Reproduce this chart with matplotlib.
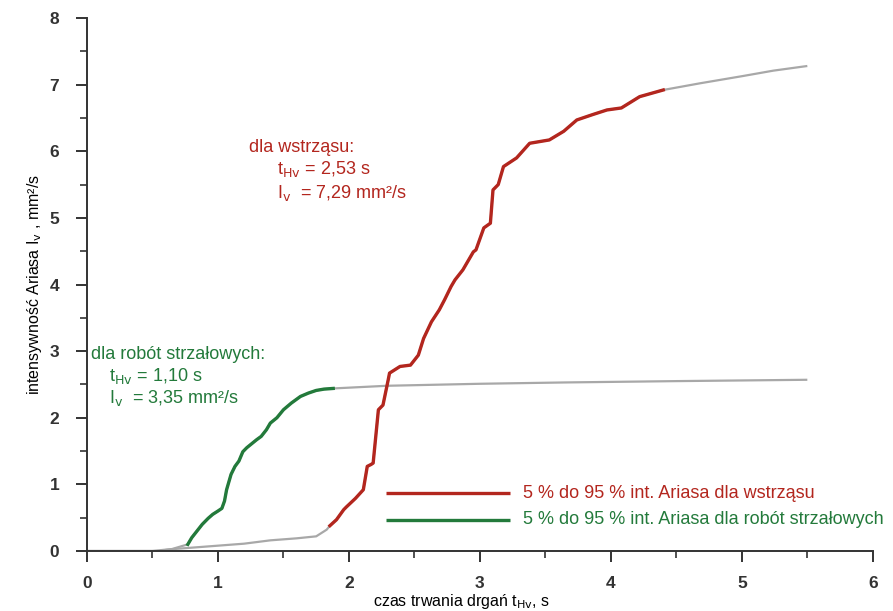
import numpy as np
import matplotlib
matplotlib.use("Agg")
import matplotlib.pyplot as plt
from matplotlib.ticker import MultipleLocator

plt.rcParams['font.family'] = ['Liberation Sans', 'DejaVu Sans']

# Arias intensity for the tremor (wstrzas)
t_tremor = [0, 0.5, 0.6, 0.8, 1.0, 1.2, 1.4, 1.6, 1.75, 1.83, 1.855, 1.905, 1.96, 1.98,
            2.05, 2.11, 2.14, 2.17, 2.185, 2.225, 2.26, 2.30, 2.31, 2.39, 2.47, 2.53, 2.57,
            2.63, 2.69, 2.73, 2.78, 2.81, 2.87, 2.95, 2.97, 3.03, 3.08, 3.10, 3.14, 3.18,
            3.28, 3.38, 3.53, 3.64, 3.74, 3.86, 3.97, 4.08, 4.22, 4.40, 4.68, 5.01, 5.24, 5.5]
I_tremor = [0, 0, 0.02, 0.05, 0.08, 0.11, 0.16, 0.19, 0.22, 0.32, 0.38, 0.47, 0.62, 0.66,
            0.79, 0.92, 1.27, 1.30, 1.32, 2.12, 2.19, 2.57, 2.67, 2.77, 2.79, 2.94, 3.19,
            3.44, 3.62, 3.77, 3.97, 4.07, 4.22, 4.49, 4.52, 4.85, 4.92, 5.42, 5.50, 5.77,
            5.90, 6.12, 6.17, 6.30, 6.47, 6.55, 6.62, 6.65, 6.82, 6.92, 7.02, 7.13, 7.21, 7.28]
tremor_window = (1.855, 4.40)

# Arias intensity for blasting works (roboty strzalowe)
t_blast = [0, 0.55, 0.65, 0.77, 0.80, 0.88, 0.925, 0.96, 1.0, 1.03, 1.05, 1.066, 1.10, 1.13,
           1.16, 1.19, 1.22, 1.295, 1.33, 1.37, 1.40, 1.45, 1.50, 1.56, 1.63, 1.69, 1.75,
           1.81, 1.88, 2.29, 3.0, 3.65, 4.5, 5.5]
I_blast = [0, 0, 0.03, 0.10, 0.20, 0.40, 0.49, 0.55, 0.60, 0.64, 0.75, 0.92, 1.15, 1.27,
           1.35, 1.49, 1.55, 1.67, 1.72, 1.82, 1.92, 2.00, 2.12, 2.22, 2.32, 2.37, 2.41,
           2.43, 2.44, 2.48, 2.51, 2.53, 2.55, 2.57]
blast_window = (0.77, 1.88)

red = '#b3261e'
green = '#237a3b'
gray = '#a8a8a8'

fig = plt.figure(figsize=(8.93, 6.11), dpi=100)
ax = fig.add_axes([0.0974, 0.0982, 0.88, 0.8723])

for t, I, win, col in [(t_tremor, I_tremor, tremor_window, red),
                       (t_blast, I_blast, blast_window, green)]:
    t = np.array(t)
    I = np.array(I)
    ax.plot(t, I, color=gray, lw=1.6, solid_capstyle='butt', zorder=2)
    m = (t >= win[0]) & (t <= win[1])
    ax.plot(t[m], I[m], color=col, lw=2.4, solid_joinstyle='round', zorder=3)

ax.set_xlim(0, 6)
ax.set_ylim(0, 8)
ax.xaxis.set_major_locator(MultipleLocator(1))
ax.xaxis.set_minor_locator(MultipleLocator(0.5))
ax.yaxis.set_major_locator(MultipleLocator(1))
ax.yaxis.set_minor_locator(MultipleLocator(0.5))
for s in ['top', 'right']:
    ax.spines[s].set_visible(False)
for s in ['left', 'bottom']:
    ax.spines[s].set_linewidth(1.4)
    ax.spines[s].set_color('#333333')
ax.tick_params(which='major', direction='out', length=8, width=1.4, color='#333333',
               labelsize=12.5, pad=10)
ax.tick_params(which='minor', direction='out', length=5, width=1.2, color='#333333')
for lbl in ax.get_xticklabels() + ax.get_yticklabels():
    lbl.set_fontweight('bold')
    lbl.set_color('#333333')
ax.tick_params(axis='y', pad=12)

ax.set_xlabel('czas trwania drgań t$_{\\mathrm{Hv}}$, s', fontsize=11.5)
ax.xaxis.set_label_coords(0.477, -0.077)
ax.set_ylabel('intensywność Ariasa I$_{\\mathrm{v}}$ , mm²/s', fontsize=11.5, labelpad=4)

fs = 13
# annotations
ax.text(1.24, 6.05, 'dla wstrząsu:', color=red, fontsize=fs, va='center')
ax.text(1.45, 5.73, 't$_{\\mathrm{Hv}}$ = 2,53 s', color=red, fontsize=fs, va='center')
ax.text(1.45, 5.37, 'I$_{\\mathrm{v}}$  = 7,29 mm²/s', color=red, fontsize=fs, va='center')

ax.text(0.03, 2.95, 'dla robót strzałowych:', color=green, fontsize=fs, va='center')
ax.text(0.17, 2.62, 't$_{\\mathrm{Hv}}$ = 1,10 s', color=green, fontsize=fs, va='center')
ax.text(0.17, 2.29, 'I$_{\\mathrm{v}}$  = 3,35 mm²/s', color=green, fontsize=fs, va='center')

# legend drawn by hand
ax.plot([2.28, 3.23], [0.87, 0.87], color=red, lw=2.4, solid_capstyle='butt')
ax.plot([2.28, 3.23], [0.47, 0.47], color=green, lw=2.4, solid_capstyle='butt')
ax.text(3.33, 0.87, '5 % do 95 % int. Ariasa dla wstrząsu', color=red, fontsize=fs,
        va='center')
ax.text(3.33, 0.47, '5 % do 95 % int. Ariasa dla robót strzałowych', color=green,
        fontsize=fs, va='center', clip_on=False)

fig.savefig('out.png', dpi=100)
